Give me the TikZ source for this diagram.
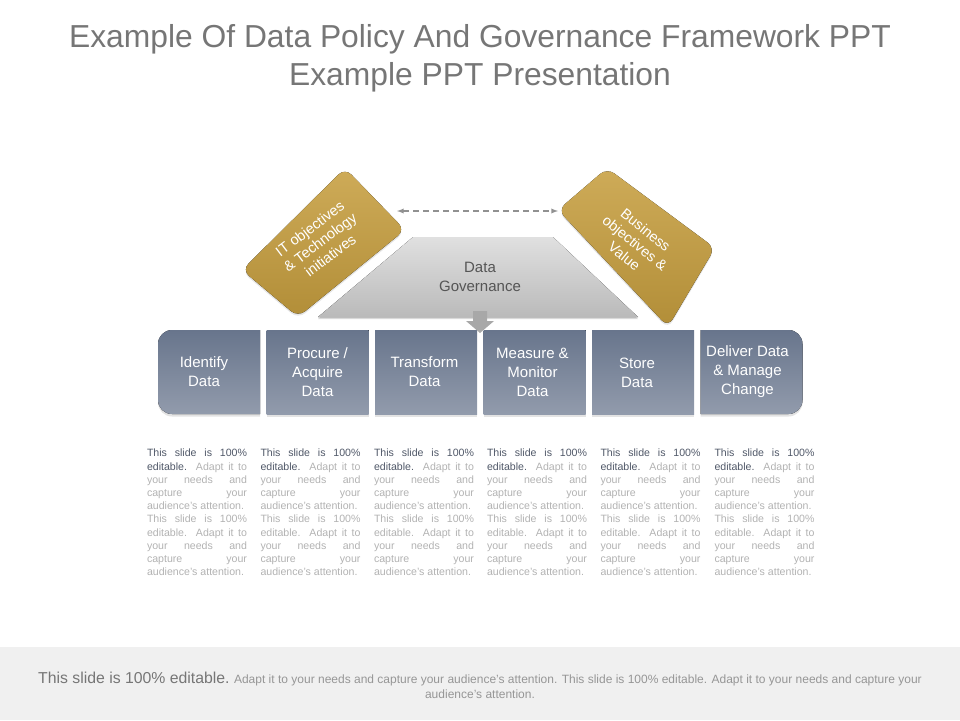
\documentclass[tikz,border=0pt]{standalone}
\usepackage{fontspec}
\setmainfont{Liberation Sans}
\usetikzlibrary{shadows}

\definecolor{titlegray}{RGB}{118,118,118}
\definecolor{goldtop}{RGB}{206,171,88}
\definecolor{goldbot}{RGB}{178,142,56}
\definecolor{govtop}{RGB}{224,224,224}
\definecolor{govbot}{RGB}{186,186,186}
\definecolor{govtext}{RGB}{85,85,85}
\definecolor{boxtop}{RGB}{104,117,140}
\definecolor{boxbot}{RGB}{146,155,172}
\definecolor{blurbdark}{RGB}{80,88,104}
\definecolor{blurblight}{RGB}{178,178,178}
\definecolor{footbg}{RGB}{240,240,240}
\definecolor{footdark}{RGB}{118,118,118}
\definecolor{footlight}{RGB}{150,150,150}
\definecolor{arrowgray}{RGB}{168,168,168}
\definecolor{dashgray}{RGB}{145,145,145}

\newcommand{\blurbtext}{%
\textcolor{blurbdark}{This slide is 100\%\linebreak editable.} Adapt it to\linebreak
your needs and\linebreak capture your\linebreak \mbox{audience's attention.}\linebreak
This slide is 100\%\linebreak editable. Adapt it to\linebreak your needs and\linebreak
capture your\linebreak \mbox{audience's attention.}}

\begin{document}
\begin{tikzpicture}[x=1pt,y=-1pt,
    every node/.style={inner sep=0pt},
    goldcard/.style={top color=goldtop,bottom color=goldbot,rounded corners=9pt,
      drop shadow={opacity=0.2,shadow xshift=0pt,shadow yshift=-2pt}},
    cardtext/.style={text=white,align=center,font=\fontsize{14.5}{17}\selectfont},
    stepbox/.style={top color=boxtop,bottom color=boxbot,
      drop shadow={opacity=0.22,shadow xshift=0pt,shadow yshift=-2.5pt}},
    steptext/.style={text=white,align=center,font=\fontsize{15}{19}\selectfont},
    blurb/.style={anchor=north,text width=100pt,align=justify,text=blurblight,
      font=\fontsize{10.6}{13.2}\selectfont},
    dasharrow/.style={dashgray,line width=1.3pt,dash pattern=on 6pt off 4pt,latex-latex}
  ]
  \useasboundingbox (0,0) rectangle (960,720);
  \fill[footbg] (0,647) rectangle (960,720);

  \node[text=titlegray,align=center,font=\fontsize{31.8}{38}\selectfont] (title) at (480,58)
    {Example Of Data Policy And Governance Framework PPT\\Example PPT Presentation};

  \fill[goldcard] (242,270) -- (345,168) -- (405,230) -- (298,317) -- cycle;
  \fill[goldcard] (558,210) -- (607,168) -- (715,248) -- (668,327) -- cycle;
  \node[cardtext,rotate=37] (itobj) at (320,242) {IT objectives\\\& Technology\\initiatives};
  \node[cardtext,rotate=-39] (busobj) at (635,243) {Business\\objectives \&\\Value};

  \coordinate (itgap) at (397,211);
  \coordinate (busgap) at (558,211);
  \draw[dasharrow] (itgap) -- (busgap);

  \fill[top color=govtop,bottom color=govbot,drop shadow={opacity=0.3,shadow xshift=0pt,shadow yshift=-2pt}]
    (413,237) -- (553,237) -- (638,317) -- (318,317) -- cycle;
  \node[text=govtext,align=center,font=\fontsize{15}{19}\selectfont] (gov) at (480,277) {Data\\Governance};

  \fill[stepbox] (260,330) -- (172,330) arc[start angle=270,end angle=180,radius=14]
    -- (158,400) arc[start angle=180,end angle=90,radius=14] -- (260,414) -- cycle;
  \fill[stepbox] (266.5,330) rectangle (368.5,414);
  \fill[stepbox] (375,330) rectangle (477,414);
  \fill[stepbox] (483.5,330) rectangle (585.5,414);
  \fill[stepbox] (592,330) rectangle (694,414);
  \fill[stepbox] (700.5,330) -- (788.5,330) arc[start angle=270,end angle=360,radius=14]
    -- (802.5,400) arc[start angle=0,end angle=90,radius=14] -- (700.5,414) -- cycle;
  \node[steptext] (identify) at (204,372) {Identify\\Data};
  \node[steptext] (procure) at (317.5,372) {Procure /\\Acquire\\Data};
  \node[steptext] (transform) at (424.5,372) {Transform\\Data};
  \node[steptext] (measure) at (532.5,372) {Measure \&\\Monitor\\Data};
  \node[steptext] (store) at (637,373) {Store\\Data};
  \node[steptext] (deliver) at (747.5,372) {Deliver Data\\\& Manage\\Change};

  \fill[arrowgray] (473,311) -- (487,311) -- (487,321) -- (494,321) -- (480,333)
    -- (466,321) -- (473,321) -- cycle;

  \node[blurb] (blurb1) at (197,449) {\blurbtext};
  \node[blurb] (blurb2) at (310.5,449) {\blurbtext};
  \node[blurb] (blurb3) at (424,449) {\blurbtext};
  \node[blurb] (blurb4) at (537,449) {\blurbtext};
  \node[blurb] (blurb5) at (650.5,449) {\blurbtext};
  \node[blurb] (blurb6) at (764.5,449) {\blurbtext};

  \node[align=center,text=footlight,font=\fontsize{12}{15}\selectfont] (footnote) at (480,685)
    {{\fontsize{15.8}{15}\selectfont\color{footdark}This slide is 100\% editable.} Adapt it to your needs and capture your audience's attention. This slide is 100\% editable. Adapt it to your needs and capture your\\audience's attention.};
\end{tikzpicture}
\end{document}
